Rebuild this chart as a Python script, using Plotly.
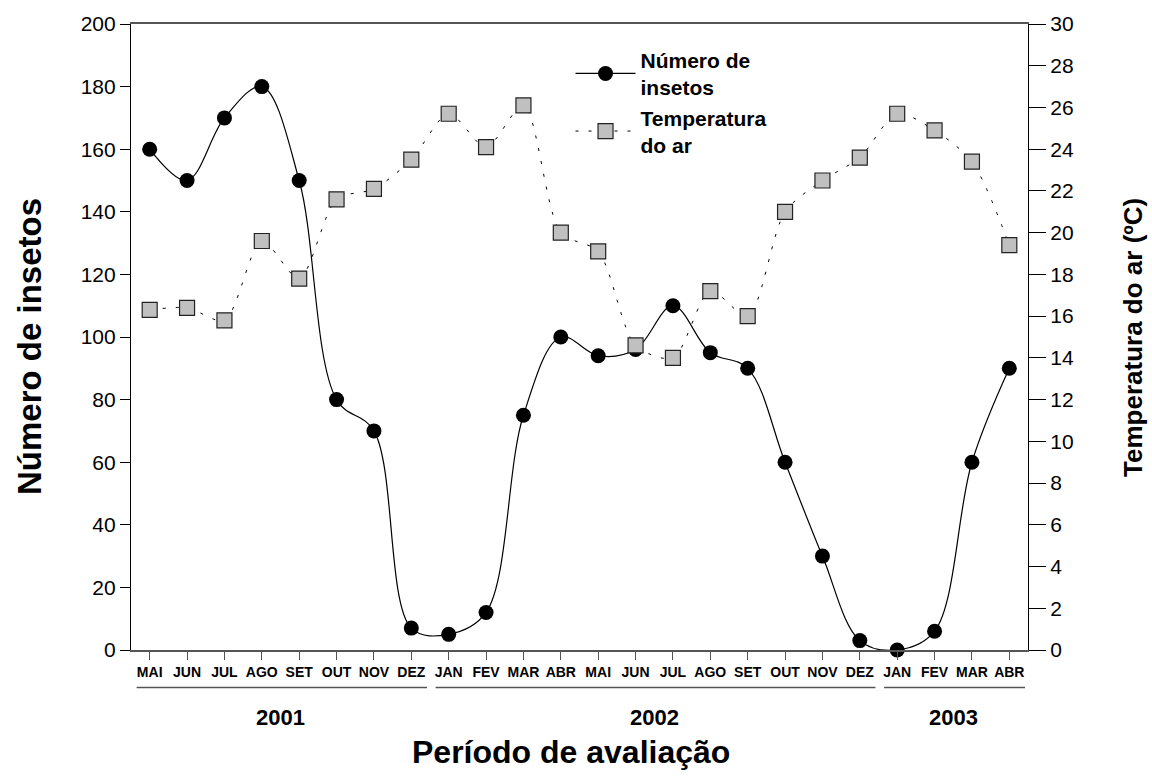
import plotly.graph_objects as go

months = ["MAI", "JUN", "JUL", "AGO", "SET", "OUT", "NOV", "DEZ",
          "JAN", "FEV", "MAR", "ABR", "MAI", "JUN", "JUL", "AGO", "SET", "OUT", "NOV", "DEZ",
          "JAN", "FEV", "MAR", "ABR"]
insects = [160, 150, 170, 180, 150, 80, 70, 7,
           5, 12, 75, 100, 94, 96, 110, 95, 90, 60, 30, 3,
           0, 6, 60, 90]
temperature = [16.3, 16.4, 15.8, 19.6, 17.8, 21.6, 22.1, 23.5,
               25.7, 24.1, 26.1, 20.0, 19.1, 14.6, 14.0, 17.2, 16.0, 21.0, 22.5, 23.6,
               25.7, 24.9, 23.4, 19.4]
years = ["2001", "2002", "2003"]
year_start = [0, 8, 20]
year_end = [7, 19, 23]

x = list(range(len(months)))
FONT = "Arial, Liberation Sans, sans-serif"

fig = go.Figure()
fig.add_trace(go.Scatter(
    x=x, y=insects, name="Número de<br>insetos", mode="lines+markers",
    line=dict(color="black", width=1.2, shape="spline", smoothing=1.0),
    marker=dict(symbol="circle", size=15, color="black"),
    cliponaxis=False,
))
fig.add_trace(go.Scatter(
    x=x, y=temperature, name="Temperatura<br>do ar", mode="lines+markers", yaxis="y2",
    line=dict(color="black", width=1, dash="3px,10px", shape="spline", smoothing=0.8),
    marker=dict(symbol="square", size=15, color="#c0c0c0", line=dict(color="#222", width=1.2)),
    cliponaxis=False,
))

shapes = []
annotations = []
for yr, s, e in zip(years, year_start, year_end):
    shapes.append(dict(type="line", xref="x", yref="paper", x0=s - 0.35, x1=e + 0.42,
                       y0=-0.06, y1=-0.06, line=dict(color="#555", width=1.5)))
    annotations.append(dict(text="<b>" + yr + "</b>", xref="x", yref="paper",
                            x=(s + e) / 2, y=-0.108, showarrow=False,
                            font=dict(family=FONT, size=22, color="black"),
                            xanchor="center", yanchor="middle"))

annotations.append(dict(text="<b>Período de avaliação</b>", xref="paper", yref="paper",
                        x=0.49, y=-0.163, showarrow=False, xanchor="center", yanchor="middle",
                        font=dict(family=FONT, size=32, color="black")))
annotations.append(dict(text="<b>Número de insetos</b>", xref="paper", yref="paper",
                        x=-0.113, y=0.485, showarrow=False, textangle=-90,
                        xanchor="center", yanchor="middle",
                        font=dict(family=FONT, size=33, color="black")))
annotations.append(dict(text="<b>Temperatura do ar (ºC)</b>", xref="paper", yref="paper",
                        x=1.117, y=0.50, showarrow=False, textangle=-90,
                        xanchor="center", yanchor="middle",
                        font=dict(family=FONT, size=26, color="black")))

fig.update_layout(
    width=1152, height=776,
    margin=dict(l=131, r=124, t=20, b=126),
    paper_bgcolor="white", plot_bgcolor="white",
    font=dict(family=FONT, color="black"),
    showlegend=True,
    legend=dict(x=0.49, y=0.975, xanchor="left", yanchor="top",
                font=dict(family=FONT, size=21, color="black", weight="bold"),
                bgcolor="rgba(0,0,0,0)", tracegroupgap=0, itemwidth=60),
    xaxis=dict(range=[-0.5, 23.5], tickmode="array", tickvals=x,
               ticktext=["<b>" + m + "</b>" for m in months],
               tickfont=dict(family=FONT, size=14, color="black"),
               ticks="outside", ticklen=8, tickcolor="#555",
               showline=True, linecolor="#555", linewidth=1.5, mirror=True,
               showgrid=False, zeroline=False),
    yaxis=dict(range=[0, 200], tickmode="linear", tick0=0, dtick=20,
               tickfont=dict(family=FONT, size=21, color="black"),
               ticks="outside", ticklen=10, tickcolor="black",
               showline=True, linecolor="black", linewidth=1.2,
               showgrid=False, zeroline=False),
    yaxis2=dict(range=[0, 30], tickmode="linear", tick0=0, dtick=2, overlaying="y", side="right",
                tickfont=dict(family=FONT, size=21, color="black"),
                ticks="outside", ticklen=17, tickcolor="black",
                showline=True, linecolor="black", linewidth=1.2,
                showgrid=False, zeroline=False),
    shapes=shapes,
    annotations=annotations,
)

fig.write_html("out.html", config={"displayModeBar": False},
               post_script="document.body.style.margin='0';")
